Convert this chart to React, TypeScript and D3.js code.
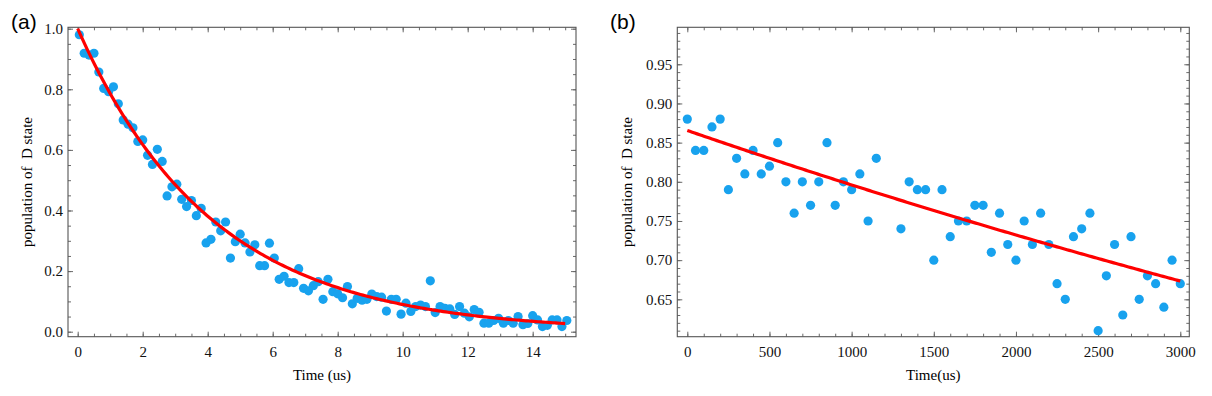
import React, { useEffect, useRef } from "react";
import * as d3 from "d3";

// panel (a): decay measured over 15 us
const timeA = [
  0.05, 0.2, 0.35, 0.5, 0.65, 0.8, 0.95, 1.1, 1.25, 1.4,
  1.55, 1.7, 1.85, 2.0, 2.15, 2.3, 2.45, 2.6, 2.75, 2.9,
  3.05, 3.2, 3.35, 3.5, 3.65, 3.8, 3.95, 4.1, 4.25, 4.4,
  4.55, 4.7, 4.85, 5.0, 5.15, 5.3, 5.45, 5.6, 5.75, 5.9,
  6.05, 6.2, 6.35, 6.5, 6.65, 6.8, 6.95, 7.1, 7.25, 7.4,
  7.55, 7.7, 7.85, 8.0, 8.15, 8.3, 8.45, 8.6, 8.75, 8.9,
  9.05, 9.2, 9.35, 9.5, 9.65, 9.8, 9.95, 10.1, 10.25, 10.4,
  10.55, 10.7, 10.85, 11.0, 11.15, 11.3, 11.45, 11.6, 11.75, 11.9,
  12.05, 12.2, 12.35, 12.5, 12.65, 12.8, 12.95, 13.1, 13.25, 13.4,
  13.55, 13.7, 13.85, 14.0, 14.15, 14.3, 14.45, 14.6, 14.75, 14.9,
  15.05,
];
const popA = [
  0.98, 0.919, 0.913, 0.919, 0.857, 0.803, 0.792, 0.808, 0.752, 0.699,
  0.685, 0.673, 0.628, 0.633, 0.582, 0.552, 0.602, 0.562, 0.448, 0.478,
  0.487, 0.437, 0.413, 0.433, 0.383, 0.407, 0.293, 0.305, 0.362, 0.333,
  0.362, 0.243, 0.297, 0.322, 0.293, 0.263, 0.287, 0.218, 0.218, 0.292,
  0.243, 0.173, 0.183, 0.162, 0.162, 0.208, 0.143, 0.135, 0.152, 0.165,
  0.107, 0.173, 0.132, 0.125, 0.112, 0.149, 0.092, 0.11, 0.104, 0.107,
  0.124, 0.116, 0.114, 0.068, 0.107, 0.107, 0.058, 0.094, 0.067, 0.083,
  0.088, 0.083, 0.168, 0.063, 0.083, 0.077, 0.075, 0.057, 0.083, 0.061,
  0.049, 0.073, 0.064, 0.028, 0.028, 0.037, 0.044, 0.028, 0.037, 0.028,
  0.05, 0.023, 0.027, 0.053, 0.039, 0.017, 0.021, 0.039, 0.039, 0.017,
  0.037,
];

// panel (b): decay measured over 3000 us
const timeB = [
  0, 50, 100, 150, 200, 250, 300, 350, 400, 450, 500, 550,
  600, 650, 700, 750, 800, 850, 900, 950, 1000, 1050, 1100, 1150,
  1300, 1350, 1400, 1450, 1500, 1550, 1600, 1650, 1700, 1750, 1800, 1850,
  1900, 1950, 2000, 2050, 2100, 2150, 2200, 2250, 2300, 2350, 2400, 2450,
  2500, 2550, 2600, 2650, 2700, 2750, 2800, 2850, 2900, 2950, 3000,
];
const popB = [
  0.88, 0.84, 0.84, 0.87, 0.88, 0.79, 0.83, 0.81, 0.84, 0.81, 0.82, 0.85,
  0.80, 0.76, 0.80, 0.77, 0.80, 0.85, 0.77, 0.80, 0.79, 0.81, 0.75, 0.83,
  0.74, 0.80, 0.79, 0.79, 0.70, 0.79, 0.73, 0.75, 0.75, 0.77, 0.77, 0.71,
  0.76, 0.72, 0.70, 0.75, 0.72, 0.76, 0.72, 0.67, 0.65, 0.73, 0.74, 0.76,
  0.61, 0.68, 0.72, 0.63, 0.73, 0.65, 0.68, 0.67, 0.64, 0.70, 0.67,
];

// exponential fits: amp * exp(-t / tau)
const fitA = { amp: 1.0, tau: 4.15, tEnd: 15 };
const fitB = { amp: 0.8655, tau: 11950, tEnd: 3000 };

const xTicksA = [0, 2, 4, 6, 8, 10, 12, 14];
const yTicksA = [0, 0.2, 0.4, 0.6, 0.8, 1.0];
const xTicksB = [0, 500, 1000, 1500, 2000, 2500, 3000];
const yTicksB = [0.65, 0.7, 0.75, 0.8, 0.85, 0.9, 0.95];

const SERIF = '"Liberation Serif", "Times New Roman", serif';
const SANS = '"Liberation Sans", Arial, sans-serif';
const DOT = "#18a2ee";

function drawPanel(svg, p) {
  const x = d3.scaleLinear().domain(p.xDomain).range([p.left, p.right]);
  const y = d3.scaleLinear().domain(p.yDomain).range([p.bottom, p.top]);
  const g = svg.append("g");

  const xMinor = d3.range(p.xMinor[0], p.xMinor[1] + 1e-9, p.xMinor[2]);
  const yMinor = d3.range(p.yMinor[0], p.yMinor[1] + 1e-9, p.yMinor[2]);

  const styleAxis = (sel) => {
    sel.select(".domain").remove();
    sel.attr("color", "#6a6a6a");
    sel.selectAll("text")
      .attr("fill", "#111")
      .style("font-family", SERIF)
      .style("font-size", "15px");
  };

  // minor ticks, all four sides
  g.append("g").attr("transform", `translate(0,${p.bottom})`)
    .call(d3.axisBottom(x).tickValues(xMinor).tickSize(-3).tickFormat(() => ""))
    .call(styleAxis);
  g.append("g").attr("transform", `translate(0,${p.top})`)
    .call(d3.axisTop(x).tickValues(xMinor).tickSize(-3).tickFormat(() => ""))
    .call(styleAxis);
  g.append("g").attr("transform", `translate(${p.left},0)`)
    .call(d3.axisLeft(y).tickValues(yMinor).tickSize(-3).tickFormat(() => ""))
    .call(styleAxis);
  g.append("g").attr("transform", `translate(${p.right},0)`)
    .call(d3.axisRight(y).tickValues(yMinor).tickSize(-3).tickFormat(() => ""))
    .call(styleAxis);

  // major ticks with labels
  g.append("g").attr("transform", `translate(0,${p.bottom})`)
    .call(d3.axisBottom(x).tickValues(p.xTicks).tickSize(-5).tickPadding(9.5).tickFormat(p.xFmt))
    .call(styleAxis);
  g.append("g").attr("transform", `translate(0,${p.top})`)
    .call(d3.axisTop(x).tickValues(p.xTicks).tickSize(-5).tickFormat(() => ""))
    .call(styleAxis);
  g.append("g").attr("transform", `translate(${p.left},0)`)
    .call(d3.axisLeft(y).tickValues(p.yTicks).tickSize(-5).tickPadding(5).tickFormat(p.yFmt))
    .call(styleAxis);
  g.append("g").attr("transform", `translate(${p.right},0)`)
    .call(d3.axisRight(y).tickValues(p.yTicks).tickSize(-5).tickFormat(() => ""))
    .call(styleAxis);

  // frame
  g.append("rect")
    .attr("x", p.left).attr("y", p.top)
    .attr("width", p.right - p.left).attr("height", p.bottom - p.top)
    .attr("fill", "none").attr("stroke", "#555").attr("stroke-width", 1.1);

  // data points
  g.append("g").selectAll("circle")
    .data(p.times.map((t, i) => [t, p.values[i]]))
    .join("circle")
    .attr("cx", d => x(d[0]))
    .attr("cy", d => y(d[1]))
    .attr("r", 4.6)
    .attr("fill", DOT);

  // fit curve
  const fitTimes = d3.range(0, p.fit.tEnd + 1e-9, p.fit.tEnd / 200);
  const line = d3.line()
    .x(t => x(t))
    .y(t => y(p.fit.amp * Math.exp(-t / p.fit.tau)));
  g.append("path")
    .datum(fitTimes)
    .attr("d", line)
    .attr("fill", "none")
    .attr("stroke", "#ff0000")
    .attr("stroke-width", 3.2);

  // axis titles
  g.append("text")
    .attr("x", (p.left + p.right) / 2).attr("y", 380)
    .attr("text-anchor", "middle")
    .style("font-family", SERIF).style("font-size", "15px")
    .text(p.xLabel);

  g.append("text")
    .attr("transform", `translate(${p.yLabelX},${(p.top + p.bottom) / 2}) rotate(-90)`)
    .attr("text-anchor", "middle")
    .style("font-family", SERIF).style("font-size", "15px")
    .style("white-space", "pre")
    .text("population of  D state");

  g.append("text")
    .attr("x", p.tagX).attr("y", 29)
    .style("font-family", SANS).style("font-size", "21px")
    .text(p.tag);
}

export default function App() {
  const ref = useRef(null);

  useEffect(() => {
    const svg = d3.select(ref.current);
    svg.selectAll("*").remove();

    drawPanel(svg, {
      left: 68, right: 576, top: 27.3, bottom: 336.7,
      xDomain: [-0.2985, 15.333], yDomain: [-0.0165, 1.0046],
      xTicks: xTicksA, yTicks: yTicksA,
      xMinor: [0, 15, 0.5], yMinor: [0, 1.0, 0.05],
      xFmt: d3.format("d"), yFmt: d3.format(".1f"),
      times: timeA, values: popA, fit: fitA,
      xLabel: "Time (us)", yLabelX: 32, tag: "(a)", tagX: 11,
    });

    drawPanel(svg, {
      left: 677.3, right: 1189.3, top: 27.3, bottom: 336.7,
      xDomain: [-60.9, 3054.8], yDomain: [0.6023, 0.9972],
      xTicks: xTicksB, yTicks: yTicksB,
      xMinor: [0, 3000, 100], yMinor: [0.61, 0.99, 0.01],
      xFmt: d3.format("d"), yFmt: d3.format(".2f"),
      times: timeB, values: popB, fit: fitB,
      xLabel: "Time(us)", yLabelX: 632, tag: "(b)", tagX: 610,
    });
  }, []);

  return (
    <svg
      ref={ref}
      width={1212}
      height={396}
      style={{ position: "absolute", left: 0, top: 0, background: "#fff" }}
    />
  );
}
